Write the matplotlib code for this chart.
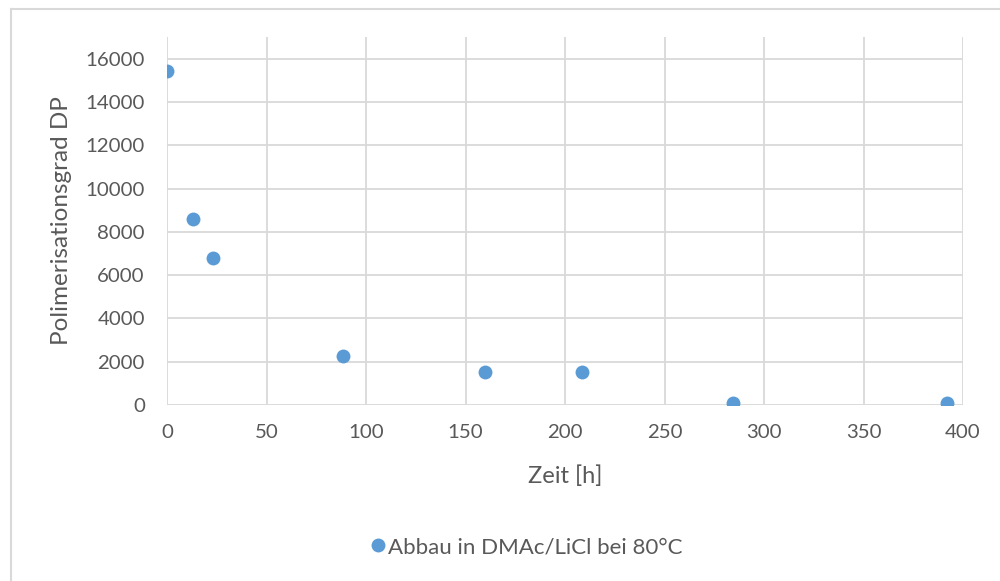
import matplotlib.pyplot as plt
from matplotlib.lines import Line2D

# Data
zeit = [0, 13, 23, 88.5, 160, 208.5, 284.5, 392]
dp = [15450, 8590, 6810, 2280, 1530, 1530, 80, 80]
series_label = "Abbau in DMAc/LiCl bei 80°C"

x_ticks = [0, 50, 100, 150, 200, 250, 300, 350, 400]
y_ticks = [0, 2000, 4000, 6000, 8000, 10000, 12000, 14000, 16000]

text_col = "#595959"
grid_col = "#D9D9D9"
dot_col = "#5B9BD5"

plt.rcParams["font.family"] = ["Lato", "DejaVu Sans"]

fig = plt.figure(figsize=(10, 5.81), dpi=100)
ax = fig.add_axes([0.167, 0.3029, 0.796, 0.6334])

ax.scatter(zeit, dp, s=100, color=dot_col, zorder=3, linewidths=0, label=series_label)

ax.set_xlim(0, 400)
ax.set_ylim(0, 17000)
ax.set_xticks(x_ticks)
ax.set_yticks(y_ticks)
ax.grid(True, color=grid_col, linewidth=1.3)
ax.set_axisbelow(True)
for s in ax.spines.values():
    s.set_visible(False)
ax.tick_params(length=0, labelsize=14.7, colors=text_col)
ax.tick_params(axis="y", pad=16)
ax.tick_params(axis="x", pad=14)

ax.set_xlabel("Zeit [h]", fontsize=17, color=text_col, labelpad=17)
ax.set_ylabel("Polimerisationsgrad DP", fontsize=17.5, color=text_col, labelpad=10)

handle = Line2D([], [], marker="o", linestyle="none", markersize=10,
                markerfacecolor=dot_col, markeredgewidth=0)
fig.legend([handle], [series_label], loc="center", bbox_to_anchor=(0.5255, 1 - 547 / 581),
           frameon=False, fontsize=16, labelcolor=text_col, handletextpad=0.0,
           handlelength=0.9)

# outer chart border (left and top visible)
fig.add_artist(Line2D([0.011, 0.011], [0, 1 - 8.5 / 581], color=grid_col, linewidth=1.5))
fig.add_artist(Line2D([0.011, 1], [1 - 8.5 / 581, 1 - 8.5 / 581], color=grid_col, linewidth=1.5))

fig.savefig("out.png", dpi=100, facecolor="white")
